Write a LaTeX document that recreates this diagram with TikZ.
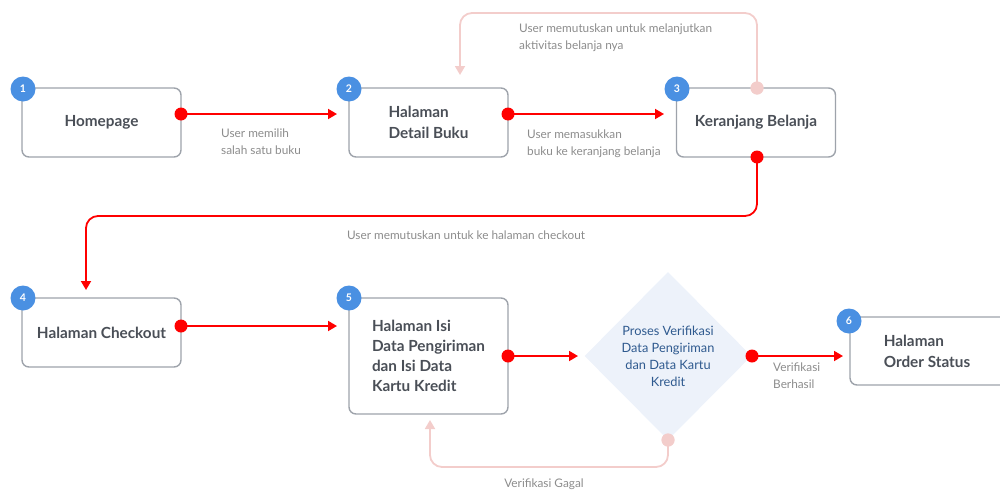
\documentclass[tikz,border=0pt]{standalone}
\usepackage{fontspec}
\setmainfont{Lato}
\usetikzlibrary{arrows.meta,shapes.geometric}
\definecolor{boxline}{HTML}{9EA3AB}
\definecolor{boxtext}{HTML}{4A4F57}
\definecolor{badgeblue}{HTML}{4A90E2}
\definecolor{flowred}{HTML}{FF0000}
\definecolor{flowpink}{HTML}{F3CDCB}
\definecolor{lbltext}{HTML}{8C8C8C}
\definecolor{dmfill}{HTML}{EDF2FA}
\definecolor{dmtext}{HTML}{2F5A8F}
\begin{document}
\begin{tikzpicture}[x=1pt,y=-1pt,
  stepbox/.style={draw=boxline, line width=1.4pt, rounded corners=7pt, fill=white,
    minimum width=159pt, inner sep=0pt},
  boxlabel/.style={text=boxtext, font=\bfseries\fontsize{15.3}{21}\selectfont, align=left},
  badge/.style={circle, fill=badgeblue, text=white, minimum size=25pt, inner sep=0pt,
    font=\bfseries\fontsize{10.5}{12}\selectfont},
  reddot/.style={circle, fill=flowred, minimum size=13pt, inner sep=0pt},
  pinkdot/.style={circle, fill=flowpink, minimum size=13pt, inner sep=0pt},
  redflow/.style={draw=flowred, line width=1.8pt, -{Triangle[length=9pt,width=10pt]}, rounded corners=12pt},
  pinkflow/.style={draw=flowpink, line width=1.8pt, -{Triangle[length=9pt,width=10pt]}, rounded corners=12pt},
  lbl/.style={text=lbltext, font=\fontsize{11.8}{16.5}\selectfont, align=left, inner sep=0pt},
]
\useasboundingbox (0,0) rectangle (1000,490);
\clip (0,0) rectangle (1000,490);

% boxes
\node[stepbox, minimum height=69pt] (b1) at (101.5,122.5) {};
\node[stepbox, minimum height=69pt] (b2) at (428.5,122.5) {};
\node[stepbox, minimum height=69pt] (b3) at (756,122.5) {};
\node[stepbox, minimum height=69pt] (b4) at (101.5,332.5) {};
\node[stepbox, minimum height=116pt] (b5) at (428.5,356) {};
\node[stepbox, minimum height=68pt] (b6) at (929.5,351) {};
\node[diamond, fill=dmfill, minimum width=167pt, minimum height=168pt, inner sep=0pt] (dm) at (668,356) {};

% box texts
\node[boxlabel] (t1) at (b1.center) {Homepage};
\node[boxlabel] (t2) at (b2.center) {Halaman\\Detail Buku};
\node[boxlabel] (t3) at (b3.center) {Keranjang Belanja};
\node[boxlabel] (t4) at (b4.center) {Halaman Checkout};
\node[boxlabel, font=\bfseries\fontsize{15.3}{20}\selectfont] (t5) at (b5.center) {Halaman Isi\\Data Pengiriman\\dan Isi Data\\Kartu Kredit};
\node[boxlabel] (t6) at (927,351) {Halaman\\Order Status};
\node[text=dmtext, font=\fontsize{12.8}{17}\selectfont, align=center] (tdm) at (dm.center) {Proses Verifikasi\\Data Pengiriman\\dan Data Kartu\\Kredit};

% badges
\node[badge] (n1) at (23,89) {1};
\node[badge] (n2) at (349,89) {2};
\node[badge] (n3) at (677,89) {3};
\node[badge] (n4) at (23,298) {4};
\node[badge] (n5) at (349,298) {5};
\node[badge] (n6) at (849,321) {6};

% connector end points
\coordinate (e2) at (337,114);
\coordinate (e3) at (664,114);
\coordinate (e4) at (86,290);
\coordinate (e5) at (337,326);
\coordinate (edm) at (578,356);
\coordinate (e6) at (843,356);
\coordinate (eback2) at (460,75);
\coordinate (eback5) at (430,420);

% flows
\draw[redflow] (181,114) node[reddot] (d12) {} (d12.center) -- (e2);
\draw[redflow] (508,114) node[reddot] (d23) {} (d23.center) -- (e3);
\draw[redflow] (757,157) node[reddot] (d34) {} (d34.center) -- (757,216) -- (86,216) -- (e4);
\draw[redflow] (181,326) node[reddot] (d45) {} (d45.center) -- (e5);
\draw[redflow] (508,356) node[reddot] (d5d) {} (d5d.center) -- (edm);
\draw[redflow] (752,356) node[reddot] (dd6) {} (dd6.center) -- (e6);

\draw[pinkflow] (757,88) node[pinkdot] (d32) {} (d32.center) -- (757,13) -- (460,13) -- (eback2);
\draw[pinkflow] (668,440) node[pinkdot] (dd5) {} (dd5.center) -- (668,467) -- (430,467) -- (eback5);
\node[pinkdot] at (757,88) {};
\node[pinkdot] at (668,440) {};

% labels
\node[lbl, anchor=north west] (l12) at (221,129) {User memilih\\salah satu buku};
\node[lbl, anchor=north west] (l23) at (527,130) {User memasukkan\\buku ke keranjang belanja};
\node[lbl, anchor=center] (l34) at (466,235) {User memutuskan untuk ke halaman checkout};
\node[lbl, anchor=north west] (l32) at (519,24) {User memutuskan untuk melanjutkan\\aktivitas belanja nya};
\node[lbl, anchor=north west] (ld6) at (773,363) {Verifikasi\\Berhasil};
\node[lbl, anchor=center] (ld5) at (544,484) {Verifikasi Gagal};
\end{tikzpicture}
\end{document}
